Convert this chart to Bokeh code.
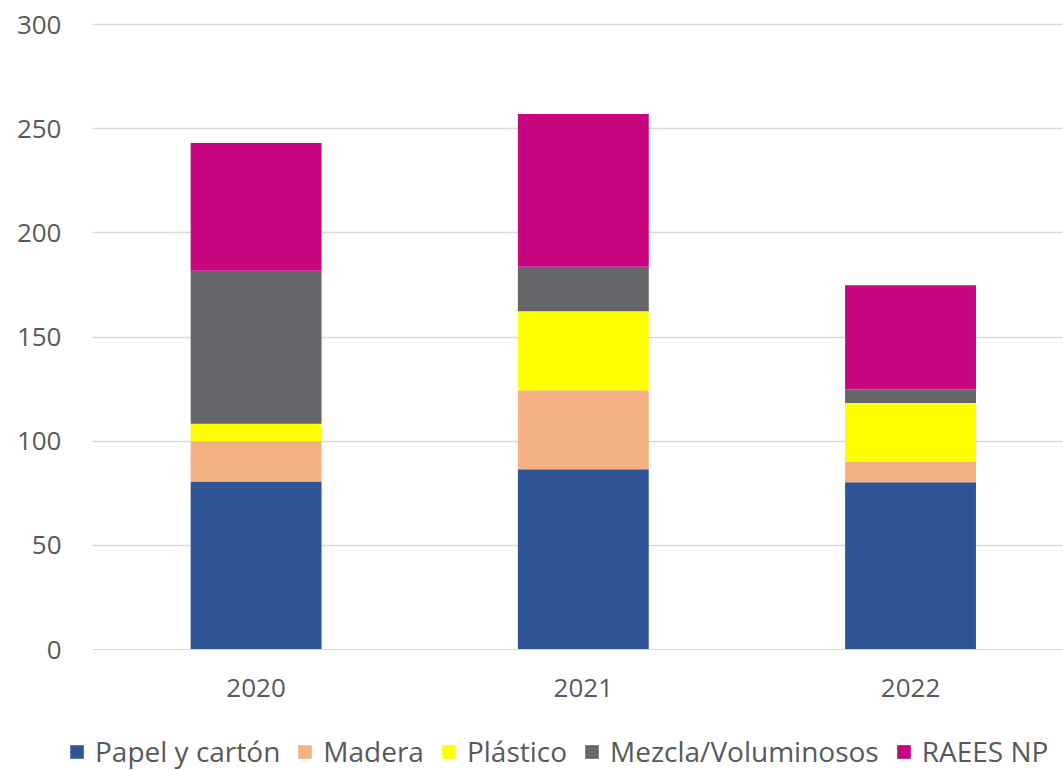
from bokeh.plotting import figure
from bokeh.layouts import column
from bokeh.models import ColumnDataSource, Range1d, FixedTicker, Legend
from bokeh.embed import file_html
from bokeh.resources import INLINE

years = [2020, 2021, 2022]
year_labels = ["2020", "2021", "2022"]
series = ["Papel y cartón", "Madera", "Plástico", "Mezcla/Voluminosos", "RAEES NP"]
papel = [80.6, 86.5, 80.3]
madera = [19.4, 38.0, 9.9]
plastico = [8.4, 37.9, 28.1]
mezcla = [73.4, 21.3, 6.6]
raees = [61.4, 73.4, 50.0]
colors = ["#2F5597", "#F4B183", "#FFFF00", "#656669", "#C6057E"]
y_ticks = [0, 50, 100, 150, 200, 250, 300]

source = ColumnDataSource(dict(x=years, **{
    "Papel y cartón": papel, "Madera": madera, "Plástico": plastico,
    "Mezcla/Voluminosos": mezcla, "RAEES NP": raees}))

p = figure(width=1063, height=715, output_backend="svg", toolbar_location=None,
           x_range=Range1d(2019.5, 2022.4675), y_range=Range1d(0, 301),
           min_border_left=92, min_border_right=0, min_border_top=22, min_border_bottom=66)

p.vbar_stack(series, x="x", width=0.4, source=source, color=colors, line_color=None)

p.outline_line_color = None
p.xgrid.grid_line_color = None
p.ygrid.grid_line_color = "#D9D9D9"
p.ygrid.grid_line_width = 1.3
p.yaxis.ticker = FixedTicker(ticks=y_ticks)
p.xaxis.ticker = FixedTicker(ticks=years)
p.xaxis.major_label_overrides = {y: l for y, l in zip(years, year_labels)}
for ax in (p.xaxis, p.yaxis):
    ax.major_tick_line_color = None
    ax.minor_tick_line_color = None
    ax.major_label_text_font = "Open Sans"
    ax.major_label_text_font_size = "26px"
    ax.major_label_text_color = "#595959"
p.yaxis.axis_line_color = None
p.xaxis.axis_line_color = "#D9D9D9"
p.yaxis.major_label_standoff = 25
p.xaxis.major_label_standoff = 23

# Legend strip: same series drawn out of view so only the legend shows
lg = figure(width=1063, height=55, output_backend="svg", toolbar_location=None,
            x_range=Range1d(0, 1), y_range=Range1d(0, 1),
            min_border=0, x_axis_type=None, y_axis_type=None)
lg.frame_align = False
lg.outline_line_color = None
lg.xgrid.visible = False
lg.ygrid.visible = False
lrs = lg.vbar_stack(series, x="x", width=0.4, source=source, color=colors, line_color=None)

legend = Legend(items=[(s, [r]) for s, r in zip(series, lrs)],
                orientation="horizontal", location=(68, 0),
                label_text_font="Open Sans", label_text_font_size="28px",
                label_text_color="#595959", glyph_width=17, glyph_height=17,
                spacing=16, label_standoff=10, border_line_color=None,
                background_fill_alpha=0, margin=0, padding=0)
lg.add_layout(legend, "center")

layout = column(p, lg, spacing=0)
open("out.html", "w").write(file_html(layout, INLINE))
